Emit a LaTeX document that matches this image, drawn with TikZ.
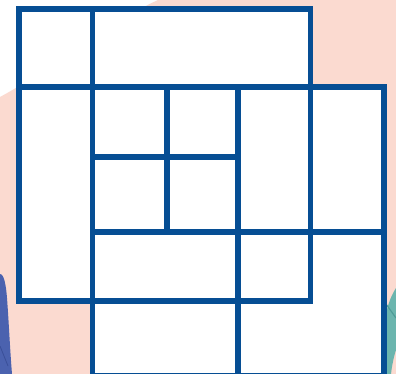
\documentclass[tikz,border=0pt]{standalone}
\definecolor{gridblue}{HTML}{064E94}
\definecolor{blush}{HTML}{FBDAD0}
\definecolor{tealfig}{HTML}{6BB5AE}
\definecolor{tealdark}{HTML}{4E9C97}
\definecolor{bluefig}{HTML}{4B62AF}
\definecolor{bluedark}{HTML}{3A4F98}
\tikzset{gridline/.style={draw=gridblue,line width=5.6pt,line cap=rect}}
\begin{document}
\begin{tikzpicture}[x=1pt,y=-1pt]
\useasboundingbox (0,0) rectangle (396,374);
\begin{scope}
\clip (0,0) rectangle (396,374);
% background blob
\fill[white] (0,0) rectangle (396,374);
\fill[blush] (0,97) .. controls (50,70) and (110,22) .. (158,0) -- (396,0) -- (396,374) -- (0,374) -- cycle;
% teal figure
\fill[tealfig] (396,288) .. controls (391,296) and (388,304) .. (386,314) -- (386,374) -- (391,374) .. controls (392,365) and (394,356) .. (396,350) -- cycle;
\draw[tealdark,line width=1.2pt] (386,304) -- (396,318);
% blue figure
\fill[bluefig] (0,274) .. controls (4,274) and (6,285) .. (7,298) .. controls (9,325) and (10,350) .. (12,374) -- (0,374) -- cycle;
\draw[bluedark,line width=0.8pt] (0,346) -- (8,366);
% white cells
\fill[white] (19,9) rectangle (310.5,301);
\fill[white] (92.5,87) rectangle (384,380);
% grid lines
\coordinate (tl) at (19,9);
\draw[gridline] (19,9) -- (310.5,9);
\draw[gridline] (19,87) -- (384,87);
\draw[gridline] (92.5,157) -- (238,157);
\draw[gridline] (92.5,232) -- (384,232);
\draw[gridline] (19,301) -- (310.5,301);
\draw[gridline] (92.5,375.5) -- (384,375.5);
\draw[gridline] (19,9) -- (19,301);
\draw[gridline] (92.5,9) -- (92.5,380);
\draw[gridline] (167,87) -- (167,232);
\draw[gridline] (238,87) -- (238,380);
\draw[gridline] (310.5,9) -- (310.5,301);
\draw[gridline] (384,87) -- (384,380);
\end{scope}
\end{tikzpicture}
\end{document}
